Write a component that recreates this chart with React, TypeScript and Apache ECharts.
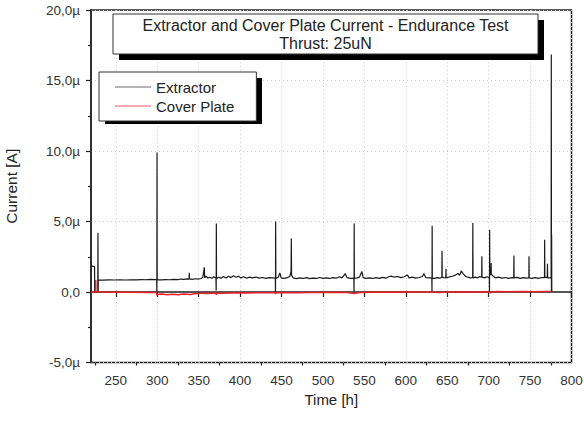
import React, { useEffect, useRef } from "react";
import * as echarts from "echarts";

// ---- data (time in hours, current in µA) ----
const extractorT = [
  220, 224.3, 224.5, 228.2, 228.4, 228.6, 228.8, 235, 242, 248, 255, 262, 268, 275, 281, 286, 292, 296,
  299.3, 299.5, 299.7, 299.9, 305, 310, 315, 320, 325, 328, 332, 336, 338.4, 338.6, 338.8, 342, 346, 350,
  353, 355, 356.8, 357.2, 359, 361, 363, 366, 368, 370.8, 371.1, 371.3, 371.5, 374, 377, 380, 383, 386,
  389, 392, 395, 398, 401, 404, 408, 411, 415, 419, 423, 427, 431, 435, 439, 442.5, 442.7, 442.9, 443.1,
  446, 448, 449.5, 453, 457, 460, 461.5, 461.8, 462.1, 464, 468, 472, 476, 480, 484, 488, 492, 496, 500,
  504, 508, 512, 516, 520, 523, 527, 529, 533, 537.3, 537.5, 537.7, 537.9, 541, 544, 547, 548.5, 552, 556,
  560, 564, 568, 572, 576, 580, 583, 586, 590, 594, 598, 602, 604, 608, 612, 616, 620, 622, 624, 628,
  631.4, 631.6, 631.8, 632, 635, 638, 641, 643.5, 643.7, 643.9, 646, 648.3, 648.5, 648.7, 652, 656, 660,
  663, 665, 667, 669, 672, 675, 678, 680.7, 680.9, 681.1, 684, 687, 689, 691.6, 691.8, 692, 695, 698,
  700.8, 701, 701.2, 701.4, 702.8, 703, 703.2, 705, 708, 712, 716, 720, 724, 728, 730.3, 730.5, 730.7,
  734, 738, 742, 746, 748.5, 748.7, 748.9, 752, 756, 760, 764, 767.4, 767.6, 767.8, 770.8, 771, 771.2,
  775.4, 775.6, 775.8, 776, 776.2,
];
const extractorI = [
  1.85, 1.8, 0.02, 0.02, 4.2, 0.05, 0.85, 0.84, 0.86, 0.85, 0.86, 0.85, 0.87, 0.86, 0.88, 0.87, 0.89, 0.88,
  0.88, -0.15, 9.9, 0.86, 0.86, 0.88, 0.87, 0.9, 0.88, 0.92, 0.9, 0.93, 0.92, 1.37, 0.93, 0.9, 0.94, 0.92,
  0.96, 1.05, 1.75, 1.0, 1.12, 0.98, 1.05, 0.97, 1.08, 0.98, 0.1, 4.85, 0.95, 1.05, 0.98, 1.1, 1.0, 1.12,
  1.02, 1.15, 1.05, 1.12, 1.0, 1.08, 0.98, 1.05, 1.0, 1.06, 0.98, 1.03, 0.97, 1.02, 1.0, 0.98, -0.02, 5.0, 0.96,
  1.05, 1.35, 1.0, 0.97, 1.02, 1.1, 1.46, 3.8, 1.2, 1.0, 0.95, 1.0, 0.96, 1.02, 0.95, 0.99, 0.96, 1.03, 0.97,
  1.0, 0.96, 1.02, 0.98, 1.08, 1.0, 1.3, 1.02, 0.97, 0.97, 0.02, 4.85, 0.96, 1.0, 1.05, 1.45, 1.02, 0.97, 1.0,
  0.96, 1.02, 0.97, 1.04, 0.98, 1.1, 1.12, 1.05, 1.1, 1.02, 1.08, 1.2, 1.0, 1.05, 0.98, 1.03, 1.1, 1.3, 1.02, 1.0,
  1.0, 0.0, 4.7, 0.98, 0.97, 1.02, 0.98, 1.05, 2.93, 1.05, 1.02, 1.0, 1.65, 1.02, 1.05, 1.12, 1.2,
  1.32, 1.18, 1.5, 1.3, 1.12, 1.05, 1.0, 1.02, 4.9, 1.0, 1.05, 1.0, 1.1, 1.05, 2.53, 1.05, 1.0, 1.08,
  1.02, 0.0, 4.42, 1.2, 1.3, 2.06, 1.25, 1.15, 1.0, 1.05, 0.98, 1.03, 0.97, 1.02, 1.0, 2.58, 1.0,
  1.04, 0.97, 1.02, 0.98, 1.0, 2.53, 1.0, 0.97, 1.02, 0.97, 1.03, 1.02, 3.7, 1.05, 1.02, 2.0, 1.0,
  1.0, 16.85, 0.0, 4.1, 0.0,
];
const coverT = [
  220, 225.5, 225.7, 225.9, 235, 250, 270, 290, 299.3, 299.5, 299.8, 305, 312, 318, 325, 332, 340, 345,
  352, 360, 371, 371.3, 371.6, 380, 395, 410, 425, 442.7, 443, 443.3, 455, 470, 485, 500, 515, 530, 537.5,
  545, 560, 575, 590, 600, 615, 631.6, 640, 655, 670, 685, 700, 701, 710, 725, 740, 755, 770, 776,
];
const coverI = [
  0, 0, 0.85, 0.02, 0.0, -0.02, -0.02, -0.03, -0.03, -0.25, -0.18, -0.15, -0.2, -0.16, -0.19, -0.15, -0.18,
  -0.12, -0.08, -0.1, -0.07, -0.2, -0.08, -0.08, -0.06, -0.07, -0.05, -0.06, -0.15, -0.06, -0.04, -0.05,
  -0.03, -0.04, -0.02, -0.03, -0.1, -0.03, -0.01, 0.0, -0.02, 0.02, 0.0, 0.0, -0.03, 0.0, 0.02, 0.0, 0.02,
  -0.05, 0.03, 0.02, 0.03, 0.02, 0.03, 0.03,
];
const xMajorTicks = [250, 300, 350, 400, 450, 500, 550, 600, 650, 700, 750, 800];
const xMinorTicks = [225, 275, 325, 375, 425, 475, 525, 575, 625, 675, 725, 775];
const titleLines = ["Extractor and Cover Plate Current - Endurance Test", "Thrust: 25uN"];
const seriesNames = ["Extractor", "Cover Plate"];

const FONT = '"Liberation Sans", Arial, sans-serif';

export default function App() {
  const ref = useRef<HTMLDivElement>(null);
  useEffect(() => {
    if (!ref.current) return;
    const chart = echarts.init(ref.current, undefined, { renderer: "svg" });
    const extractor = extractorT.map((t, i) => [t, extractorI[i]]);
    const cover = coverT.map((t, i) => [t, coverI[i]]);
    const gridLine = { show: true, lineStyle: { color: "#c6cadb", width: 1, type: [1, 3] as any } };
    chart.setOption({
      animation: false,
      backgroundColor: "#fff",
      textStyle: { fontFamily: FONT },
      title: {
        text: titleLines.join("\n"),
        left: 325.5,
        top: 16,
        padding: 0,
        textAlign: "center",
        textStyle: { fontSize: 16, fontWeight: "normal", color: "#222", lineHeight: 18.5, fontFamily: FONT },
      },
      legend: {
        left: 99,
        top: 72,
        orient: "vertical",
        padding: [6, 22, 6, 16],
        itemGap: 1,
        itemWidth: 36,
        itemHeight: 1.5,
        backgroundColor: "#fff",
        borderColor: "#333",
        borderWidth: 1,
        textStyle: { fontSize: 15, color: "#222", fontFamily: FONT, lineHeight: 18 },
        data: [
          { name: seriesNames[0], icon: "rect", itemStyle: { color: "#9a9a9a" } },
          { name: seriesNames[1], icon: "rect", itemStyle: { color: "#f0909a" } },
        ],
      },
      graphic: [
        { type: "rect", z: 3, shape: { x: 105, y: 78, width: 157, height: 46 }, style: { fill: "#000" } },
        { type: "rect", z: 4, shape: { x: 119, y: 20, width: 425, height: 40 }, style: { fill: "#000" } },
        { type: "rect", z: 5, shape: { x: 113, y: 14, width: 425, height: 40 }, style: { fill: "#fff", stroke: "#333", lineWidth: 1 } },
      ],
      grid: {
        left: 91,
        right: 12.5,
        top: 10,
        bottom: 58.5,
        containLabel: false,
        outerBoundsMode: "none",
        show: true,
        borderColor: "#222",
        borderWidth: 1.5,
      },
      xAxis: [
        {
          type: "value",
          min: 220,
          max: 800,
          name: "Time [h]",
          nameLocation: "middle",
          nameGap: 29,
          nameTextStyle: { fontSize: 15, color: "#222", fontFamily: FONT },
          axisLine: { show: true, lineStyle: { color: "#222", width: 1.5 } },
          axisTick: { show: true, length: 5, customValues: xMajorTicks, lineStyle: { color: "#222", width: 1.2 } },
          axisLabel: { customValues: xMajorTicks, fontSize: 13.5, color: "#333", margin: 11, fontFamily: FONT },
          splitLine: gridLine,
        },
        {
          type: "value",
          min: 220,
          max: 800,
          position: "bottom",
          axisLine: { show: false },
          axisTick: { show: true, length: 3, customValues: xMinorTicks, lineStyle: { color: "#222", width: 1.2 } },
          axisLabel: { show: false },
          splitLine: { show: false },
        },
      ],
      yAxis: {
        type: "value",
        min: -5,
        max: 20,
        interval: 5,
        name: "Current [A]",
        nameLocation: "middle",
        nameGap: 72,
        nameTextStyle: { fontSize: 15.5, color: "#222", fontFamily: FONT },
        axisLine: { show: true, lineStyle: { color: "#222", width: 1.5 } },
        axisTick: { show: true, length: 5, lineStyle: { color: "#222", width: 1.2 } },
        minorTick: { show: true, splitNumber: 2, length: 3, lineStyle: { color: "#222", width: 1.2 } },
        axisLabel: {
          fontSize: 13.5,
          color: "#333",
          margin: 11,
          fontFamily: FONT,
          formatter: (v: number) => (v === 0 ? "0,0" : v.toFixed(1).replace(".", ",") + "µ"),
        },
        splitLine: gridLine,
      },
      series: [
        {
          name: seriesNames[0],
          type: "line",
          xAxisIndex: 0,
          data: extractor,
          symbol: "none",
          showSymbol: false,
          lineStyle: { color: "#1a1a1a", width: 1.2 },
          itemStyle: { color: "#1a1a1a" },
        },
        {
          name: seriesNames[1],
          type: "line",
          xAxisIndex: 0,
          data: cover,
          symbol: "none",
          showSymbol: false,
          lineStyle: { color: "#e8202a", width: 1.5 },
          itemStyle: { color: "#e8202a" },
        },
      ],
    });
    return () => chart.dispose();
  }, []);
  return (
    <div
      ref={ref}
      style={{ position: "absolute", left: 0, top: 0, width: 584, height: 421, background: "#fff" }}
    />
  );
}
